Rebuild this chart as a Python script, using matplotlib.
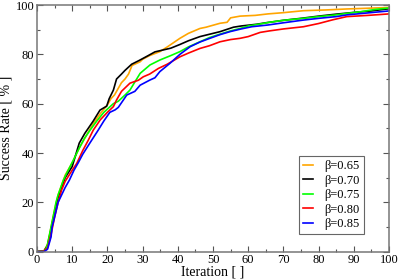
"""Success rate vs. iteration for several beta values."""

import matplotlib

matplotlib.use("Agg")
import matplotlib.pyplot as plt
from matplotlib.ticker import MultipleLocator

plt.rcParams["font.family"] = ["Liberation Serif", "DejaVu Serif"]

LABELS = ["β=0.65", "β=0.70", "β=0.75", "β=0.80", "β=0.85"]
COLORS = ["#ffa500", "#000000", "#00ff00", "#ff0000", "#0000ff"]

x_065 = [0, 2, 3, 4, 5, 6, 7, 8, 10, 12, 14, 16, 18, 20, 21, 22, 24, 25, 26, 27, 29.3, 30, 32, 34.9,
         37, 40.6, 43, 46.3, 48, 52, 54, 55, 57.7, 62, 65.6, 70, 75.7, 82, 88, 94, 100]
y_065 = [0, 0.3, 3, 10, 17, 23, 27, 31, 36, 42, 47, 52, 56, 59.5, 62, 63.5, 68.5, 70, 72, 75.5, 77, 78, 79.5, 81.1,
         83, 86.5, 88.5, 90.5, 91, 92.6, 93, 94.8, 95.5, 95.8, 96.4, 96.9, 97.7, 98, 98.4, 98.7, 99]

x_070 = [0, 2, 3, 4, 5, 6, 7, 8, 10, 12, 13.6, 16, 17.9, 19.8, 20.5, 21.7, 22.6, 24, 25, 26.9, 29, 31.6,
         33.5, 35, 38, 40.6, 43, 46.3, 52, 55.8, 58, 62.4, 65, 70, 75, 80, 85, 90, 95, 100]
y_070 = [0, 0.3, 2.5, 9, 16, 22, 26, 30, 34.5, 44, 48, 53, 57.4, 59, 62, 65.5, 70, 72, 73.5, 76, 77.5, 79.5,
         81, 81.5, 82.5, 84, 85.5, 87.2, 89.2, 91, 91.5, 92.2, 92.8, 93.8, 94.6, 95.5, 96.3, 97, 97.6, 98.5]

x_075 = [0, 2, 2.5, 3, 4, 5, 5.4, 6, 7.5, 8.5, 10.3, 12, 13.5, 15.1, 17, 19, 21.7, 23.1, 25, 26.4, 29.3,
         32.1, 34.9, 38, 40.6, 43, 46.3, 49, 52, 55, 57.7, 60, 63.4, 66, 70, 75.7, 80, 85, 88, 92, 96, 100]
y_075 = [0, 0.3, 1, 3, 10, 17, 20, 23, 29, 32, 37, 42, 46, 49.3, 53, 56.5, 60, 61, 63.5, 65.5, 72.3,
         75.7, 77.7, 79.5, 81.1, 83, 85.1, 86.8, 88.2, 89.5, 90.5, 91.5, 92.3, 93, 93.8, 94.6, 95.3, 96, 96.6, 97.3, 98.2, 98.8]

x_080 = [0, 2, 3, 4, 5, 6, 7, 8, 10, 11.3, 13, 14.5, 16, 18, 20, 21.7, 22.6, 24, 26.4, 28.8, 30.2, 32,
         34.5, 37, 40.6, 43, 46.3, 49, 52, 55, 57.7, 60, 63.4, 66, 70, 75.7, 80, 84, 88, 94, 100]
y_080 = [0, 0.2, 1.5, 7, 14, 20, 25, 28.5, 33, 35.8, 41, 45, 49.3, 53.5, 56.5, 58.8, 61.5, 65, 68.3, 69.5, 70.9, 72,
         74.3, 76, 79, 80.5, 82.4, 83.5, 85.1, 86, 86.5, 87.2, 88.9, 89.5, 90.3, 91.2, 92.5, 94, 95.3, 95.8, 96.4]

x_085 = [0, 2, 3, 4, 4.3, 5, 6, 7, 8, 9.2, 10.5, 11.7, 13, 15, 17.4, 19, 20.7, 22.2, 23.1, 25.5, 27.8,
         29.3, 32.1, 33.5, 34.9, 37.8, 40.6, 43.5, 46.3, 49.1, 52, 54.8, 58, 61, 65.6, 70, 75.7, 80, 85, 88, 94, 100]
y_085 = [0, 0, 1, 6, 10, 14, 20, 23, 26, 29, 33, 36, 39.5, 44, 49.3, 53, 56.5, 57.5, 58.5, 63.5, 65,
         67.5, 69.6, 70.5, 73, 76.4, 80, 83.1, 85, 86.5, 88, 89.2, 90.3, 91.2, 91.9, 92.8, 93.9, 94.6, 95.3, 96, 96.8, 97.6]

SERIES = [(x_065, y_065), (x_070, y_070), (x_075, y_075), (x_080, y_080), (x_085, y_085)]


def main() -> None:
    fig = plt.figure(figsize=(3.99, 2.79), dpi=100)
    ax = fig.add_axes([0.0927, 0.098, 0.8823, 0.884])

    for (xs, ys), label, color in zip(SERIES, LABELS, COLORS):
        ax.plot(xs, ys, color=color, linewidth=1.2, label=label)

    ax.set_xlim(0, 100)
    ax.set_ylim(0, 100)
    ax.xaxis.set_major_locator(MultipleLocator(10))
    ax.xaxis.set_minor_locator(MultipleLocator(5))
    ax.yaxis.set_major_locator(MultipleLocator(20))
    ax.yaxis.set_minor_locator(MultipleLocator(10))
    ax.tick_params(which="both", direction="in", top=True, right=True,
                   width=0.8, color="#555555", labelsize=9, pad=2)
    ax.tick_params(which="major", length=4)
    ax.tick_params(which="minor", length=2)
    for spine in ax.spines.values():
        spine.set_color("#777777")
        spine.set_linewidth(1.1)

    ax.set_xlabel("Iteration [ ]", fontsize=10, labelpad=-1)
    ax.set_ylabel("Success Rate [ % ]", fontsize=10, labelpad=2)

    leg = ax.legend(
        loc="lower right",
        bbox_to_anchor=(0.929, 0.07),
        fontsize=9,
        fancybox=False,
        edgecolor="#666666",
        framealpha=1,
        handlelength=0.8,
        handletextpad=0.9,
        labelspacing=0.2,
        borderpad=0.35,
        borderaxespad=0,
    )
    leg.get_frame().set_linewidth(0.8)

    fig.savefig("out.png", dpi=100)
    plt.close(fig)


if __name__ == "__main__":
    main()
